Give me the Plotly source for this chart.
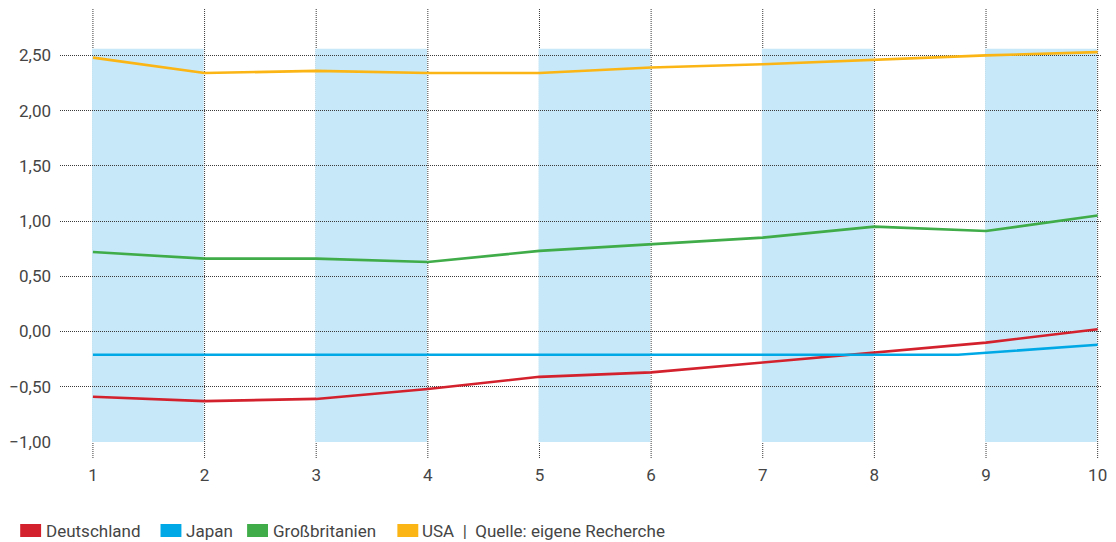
import plotly.graph_objects as go

# --- data ---------------------------------------------------------------
x_vals = [1, 2, 3, 4, 5, 6, 7, 8, 9, 10]
deutschland = [-0.59, -0.63, -0.61, -0.52, -0.41, -0.37, -0.28, -0.19, -0.10, 0.02]
japan_x = [1, 2, 3, 4, 5, 6, 7, 8, 8.75, 10]
japan = [-0.21, -0.21, -0.21, -0.21, -0.21, -0.21, -0.21, -0.21, -0.21, -0.12]
grossbritannien = [0.72, 0.66, 0.66, 0.63, 0.73, 0.79, 0.85, 0.95, 0.91, 1.05]
usa = [2.48, 2.34, 2.36, 2.34, 2.34, 2.39, 2.42, 2.46, 2.50, 2.53]

band_starts = [1, 3, 5, 7, 9]
band_top = 2.56
y_ticks = [-1.0, -0.5, 0.0, 0.5, 1.0, 1.5, 2.0, 2.5]

series_names = ["Deutschland", "Japan", "Großbritanien", "USA"]
colors = ["#d3222d", "#00a9e5", "#3fac49", "#fbb514"]
band_color = "#c6e8f8"
grid_color = "#3a3a3a"
text_color = "#454545"
FONT = "Roboto"
FSIZE = 17

# --- layout geometry (pixels) ---------------------------------------------
W, H = 1116, 542
M_L, M_R, M_T, M_B = 59, 11, 9, 100
PW, PH = W - M_L - M_R, H - M_T - M_B


def px_x(px):
    return (px - M_L) / PW


def px_y(py):
    return (H - M_B - py) / PH


fig = go.Figure()

series = [
    (x_vals, deutschland),
    (japan_x, japan),
    (x_vals, grossbritannien),
    (x_vals, usa),
]
for (xs, ys), name, col in zip(series, series_names, colors):
    fig.add_trace(go.Scatter(
        x=xs, y=ys, mode="lines", name=name,
        line=dict(color=col, width=2.6),
        showlegend=False, hoverinfo="x+y+name",
    ))

shapes = []
# dotted vertical guides, running from below the axis to the top
for xv in x_vals:
    shapes.append(dict(
        type="line", xref="x", yref="paper",
        x0=xv, x1=xv, y0=px_y(458), y1=1,
        line=dict(color=grid_color, width=1, dash="1px,1px"),
        layer="below",
    ))
# shaded column bands
for xs in band_starts:
    shapes.append(dict(
        type="rect", xref="x", yref="y",
        x0=xs - 0.008, x1=xs + 1 - 0.008, y0=-1.0, y1=band_top,
        fillcolor=band_color, line=dict(width=0),
        layer="below",
    ))

# legend swatches and labels
legend_sq = [19, 160, 247, 398]
legend_txt = [43, 184, 271, 421]
legend_labels = ["Deutschland", "Japan", "Großbritanien",
                 "USA  |  Quelle: eigene Recherche"]
annotations = []
for sq, tx, lab, col in zip(legend_sq, legend_txt, legend_labels, colors):
    shapes.append(dict(
        type="rect", xref="paper", yref="paper",
        x0=px_x(sq), x1=px_x(sq + 21), y0=px_y(537), y1=px_y(524),
        fillcolor=col, line=dict(width=0),
    ))
    annotations.append(dict(
        xref="paper", yref="paper", x=px_x(tx), y=px_y(531),
        xanchor="left", yanchor="middle", text=lab, showarrow=False,
        font=dict(family=FONT, size=FSIZE, color=text_color),
    ))

fig.update_layout(
    width=W, height=H,
    margin=dict(l=M_L, r=M_R, t=M_T, b=M_B),
    paper_bgcolor="white", plot_bgcolor="white",
    separators=",.",
    showlegend=False,
    shapes=shapes,
    annotations=annotations,
    font=dict(family=FONT, size=FSIZE, color=text_color),
    xaxis=dict(
        range=[0.705, 10.03],
        tickmode="array", tickvals=x_vals,
        ticktext=[str(v) for v in x_vals],
        showgrid=False, zeroline=False, showline=False,
        ticks="", ticklabelstandoff=21,
        tickfont=dict(family=FONT, size=FSIZE, color=text_color),
    ),
    yaxis=dict(
        range=[-1.0, 2.92],
        tickmode="array", tickvals=y_ticks, tickformat=".2f",
        showgrid=True, gridcolor=grid_color, gridwidth=1,
        griddash="1px,1px",
        zeroline=False, showline=False,
        ticks="", ticklabelstandoff=8,
        tickfont=dict(family=FONT, size=FSIZE, color=text_color),
    ),
)

fig.write_html("out.html")
